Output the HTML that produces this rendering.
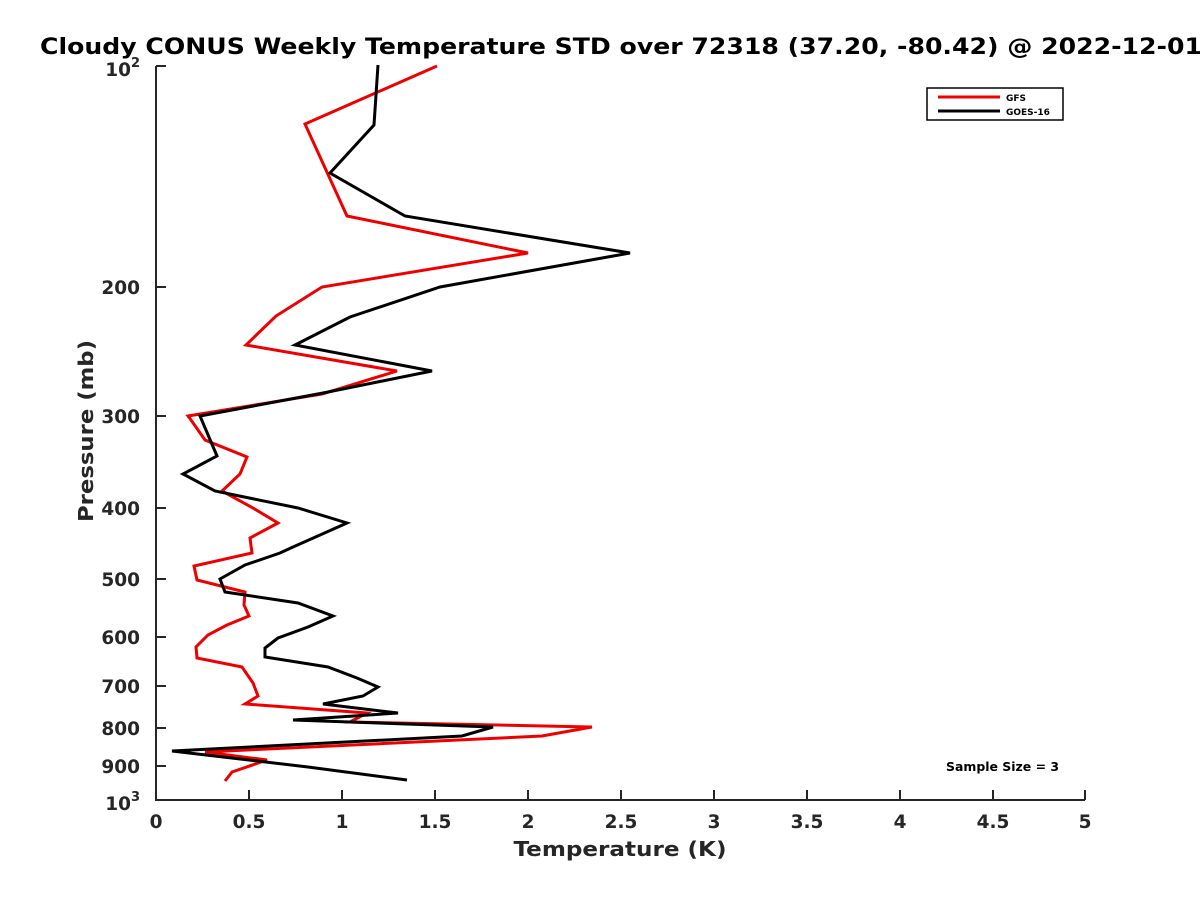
<!DOCTYPE html>
<html><head><style>body{margin:0;background:#fff}</style></head><body>
<svg width="1200" height="900" xmlns="http://www.w3.org/2000/svg" font-family="DejaVu Sans, Liberation Sans, sans-serif" font-weight="bold">
<rect width="1200" height="900" fill="#fff"/>
<text x="40" y="54" font-size="22" fill="#000" textLength="1162" lengthAdjust="spacingAndGlyphs">Cloudy CONUS Weekly Temperature STD over 72318 (37.20, -80.42) @ 2022-12-01</text>
<g stroke="#262626" stroke-width="2" fill="none">
<path d="M156,66 V800 H1085"/>
<path d="M156,66 h10 M156,287 h10 M156,416 h10 M156,508 h10 M156,579 h10 M156,637 h10 M156,686 h10 M156,728 h10 M156,766 h10 M156,800 h10"/>
<path d="M156,800 v-10 M249,800 v-10 M342,800 v-10 M435,800 v-10 M528,800 v-10 M621,800 v-10 M714,800 v-10 M807,800 v-10 M900,800 v-10 M993,800 v-10 M1085,800 v-10"/>
</g>
<g font-size="18.5" fill="#262626" text-anchor="end">
<text x="140" y="76">10<tspan font-size="13" dy="-9">2</tspan></text>
<text x="140" y="294">200</text><text x="140" y="423">300</text><text x="140" y="515">400</text>
<text x="140" y="586">500</text><text x="140" y="644">600</text><text x="140" y="693">700</text>
<text x="140" y="735">800</text><text x="140" y="773">900</text>
<text x="140" y="810">10<tspan font-size="13" dy="-9">3</tspan></text>
</g>
<g font-size="18.5" fill="#262626" text-anchor="middle">
<text x="156" y="828">0</text><text x="249" y="828">0.5</text><text x="342" y="828">1</text><text x="435" y="828">1.5</text>
<text x="528" y="828">2</text><text x="621" y="828">2.5</text><text x="714" y="828">3</text><text x="807" y="828">3.5</text>
<text x="900" y="828">4</text><text x="993" y="828">4.5</text><text x="1085" y="828">5</text>
<text x="620" y="856" font-size="20" textLength="213" lengthAdjust="spacingAndGlyphs">Temperature (K)</text>
<text transform="translate(93,431) rotate(-90)" font-size="20" textLength="182" lengthAdjust="spacingAndGlyphs">Pressure (mb)</text>
</g>
<polyline fill="none" stroke="#e00" stroke-width="3" points="437,66 305,124 347,216 528,253 322,287 276,316 246,345 397,371 322,394 188,416 191,420 205,440 247,457 240,474 222,491 253,508 278,523 250,538 252,553 194,566 197,580 245,592 244,605 249,616 227,625 208,635 196,647 197,658 242,667 253,683 258,696 245,704 367,713 350,722 592,727 542,736 205,752 267,760 232,772 225,781"/>
<polyline fill="none" stroke="#000" stroke-width="3" points="378,65 374,125 330,173 405,216 630,253 440,287 350,317 295,345 432,371 323,393 200,416 217,456 183,474 215,491 298,508 347,523 293,547 280,553 245,565 220,579 225,592 298,603 333,616 308,627 278,638 265,648 265,657 328,667 357,678 378,687 363,696 323,704 398,713 293,720 493,727 462,736 172,751 308,767 407,780"/>
<rect x="927" y="88" width="136" height="32" fill="#fff" stroke="#000" stroke-width="1.5"/>
<line x1="938" y1="97" x2="1000" y2="97" stroke="#e00" stroke-width="3"/>
<line x1="938" y1="111" x2="1000" y2="111" stroke="#000" stroke-width="3"/>
<text x="1006" y="101" font-size="9">GFS</text>
<text x="1006" y="115" font-size="9">GOES-16</text>
<text x="946" y="771" font-size="12" textLength="113" lengthAdjust="spacingAndGlyphs">Sample Size = 3</text>
</svg>
</body></html>
